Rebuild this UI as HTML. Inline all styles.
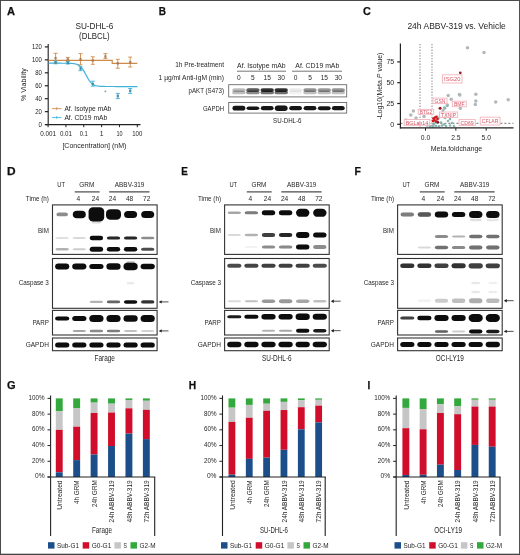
<!DOCTYPE html><html><head><meta charset="utf-8"><style>html,body{margin:0;padding:0;background:#fff;}body{width:520px;height:555px;overflow:hidden;}svg{display:block;}text{font-family:"Liberation Sans", sans-serif;}</style></head><body>
<svg width="520" height="555" viewBox="0 0 520 555">
<defs><filter id="bl" x="-30%" y="-80%" width="160%" height="260%"><feGaussianBlur stdDeviation="0.7"/></filter><filter id="soft" x="0" y="0" width="520" height="555" filterUnits="userSpaceOnUse"><feGaussianBlur stdDeviation="0.3"/></filter></defs>
<rect x="0.00" y="0.00" width="520.00" height="555.00" fill="#fff" />
<g filter="url(#soft)">
<text x="7.00" y="14.98" font-size="11.0" font-weight="bold" fill="#111" stroke="#111" stroke-width="0.25" textLength="8.0" lengthAdjust="spacingAndGlyphs">A</text>
<text x="94.40" y="28.64" font-size="9.0" text-anchor="middle" fill="#262626" stroke="#262626" stroke-width="0.0" textLength="38.00" lengthAdjust="spacingAndGlyphs" >SU-DHL-6</text>
<text x="94.40" y="39.19" font-size="9.0" text-anchor="middle" fill="#262626" stroke="#262626" stroke-width="0.0" textLength="30.60" lengthAdjust="spacingAndGlyphs" >(DLBCL)</text>
<line x1="48.20" y1="44.00" x2="48.20" y2="125.10" stroke="#222" stroke-width="1.1" />
<line x1="44.80" y1="124.60" x2="48.20" y2="124.60" stroke="#222" stroke-width="1.2" />
<text x="41.90" y="126.51" font-size="6.7" text-anchor="end" fill="#262626" stroke="#262626" stroke-width="0.0" textLength="3.40" lengthAdjust="spacingAndGlyphs" >0</text>
<line x1="44.80" y1="111.65" x2="48.20" y2="111.65" stroke="#222" stroke-width="1.2" />
<text x="41.90" y="113.56" font-size="6.7" text-anchor="end" fill="#262626" stroke="#262626" stroke-width="0.0" textLength="6.70" lengthAdjust="spacingAndGlyphs" >20</text>
<line x1="44.80" y1="98.70" x2="48.20" y2="98.70" stroke="#222" stroke-width="1.2" />
<text x="41.90" y="100.61" font-size="6.7" text-anchor="end" fill="#262626" stroke="#262626" stroke-width="0.0" textLength="6.70" lengthAdjust="spacingAndGlyphs" >40</text>
<line x1="44.80" y1="85.75" x2="48.20" y2="85.75" stroke="#222" stroke-width="1.2" />
<text x="41.90" y="87.66" font-size="6.7" text-anchor="end" fill="#262626" stroke="#262626" stroke-width="0.0" textLength="6.70" lengthAdjust="spacingAndGlyphs" >60</text>
<line x1="44.80" y1="72.80" x2="48.20" y2="72.80" stroke="#222" stroke-width="1.2" />
<text x="41.90" y="74.71" font-size="6.7" text-anchor="end" fill="#262626" stroke="#262626" stroke-width="0.0" textLength="6.70" lengthAdjust="spacingAndGlyphs" >80</text>
<line x1="44.80" y1="59.85" x2="48.20" y2="59.85" stroke="#222" stroke-width="1.2" />
<text x="41.90" y="61.76" font-size="6.7" text-anchor="end" fill="#262626" stroke="#262626" stroke-width="0.0" textLength="9.90" lengthAdjust="spacingAndGlyphs" >100</text>
<line x1="44.80" y1="46.90" x2="48.20" y2="46.90" stroke="#222" stroke-width="1.2" />
<text x="41.90" y="48.81" font-size="6.7" text-anchor="end" fill="#262626" stroke="#262626" stroke-width="0.0" textLength="9.90" lengthAdjust="spacingAndGlyphs" >120</text>
<line x1="45.50" y1="124.60" x2="140.50" y2="124.60" stroke="#222" stroke-width="1.1" />
<line x1="48.10" y1="124.60" x2="48.10" y2="127.20" stroke="#222" stroke-width="1" />
<text x="48.10" y="136.35" font-size="6.8" text-anchor="middle" fill="#262626" stroke="#262626" stroke-width="0.0" textLength="15.80" lengthAdjust="spacingAndGlyphs" >0.001</text>
<line x1="65.94" y1="124.60" x2="65.94" y2="127.20" stroke="#222" stroke-width="1" />
<text x="65.94" y="136.35" font-size="6.8" text-anchor="middle" fill="#262626" stroke="#262626" stroke-width="0.0" textLength="12.10" lengthAdjust="spacingAndGlyphs" >0.01</text>
<line x1="83.78" y1="124.60" x2="83.78" y2="127.20" stroke="#222" stroke-width="1" />
<text x="83.78" y="136.35" font-size="6.8" text-anchor="middle" fill="#262626" stroke="#262626" stroke-width="0.0" textLength="8.10" lengthAdjust="spacingAndGlyphs" >0.1</text>
<line x1="101.62" y1="124.60" x2="101.62" y2="127.20" stroke="#222" stroke-width="1" />
<text x="101.62" y="136.35" font-size="6.8" text-anchor="middle" fill="#262626" stroke="#262626" stroke-width="0.0" >1</text>
<line x1="119.46" y1="124.60" x2="119.46" y2="127.20" stroke="#222" stroke-width="1" />
<text x="119.46" y="136.35" font-size="6.8" text-anchor="middle" fill="#262626" stroke="#262626" stroke-width="0.0" textLength="6.10" lengthAdjust="spacingAndGlyphs" >10</text>
<line x1="137.30" y1="124.60" x2="137.30" y2="127.20" stroke="#222" stroke-width="1" />
<text x="137.30" y="136.35" font-size="6.8" text-anchor="middle" fill="#262626" stroke="#262626" stroke-width="0.0" textLength="10.10" lengthAdjust="spacingAndGlyphs" >100</text>
<text x="94.40" y="148.41" font-size="7.8" text-anchor="middle" fill="#262626" stroke="#262626" stroke-width="0.0" textLength="64.00" lengthAdjust="spacingAndGlyphs" >[Concentration] (nM)</text>
<text x="22.90" y="87.41" font-size="7.8" text-anchor="middle" fill="#262626" stroke="#262626" stroke-width="0.0" textLength="32.60" lengthAdjust="spacingAndGlyphs" transform="rotate(-90 22.90 84.60)" >% Viability</text>
<polyline points="48.5,60.4 112.2,60.4 112.2,63.4 137.3,63.4" fill="none" stroke="#cf8a48" stroke-width="1.2"/>
<polyline points="48.5,63.22 49.0,63.22 49.5,63.22 50.0,63.22 50.5,63.22 51.0,63.22 51.5,63.22 52.0,63.22 52.5,63.22 53.0,63.22 53.5,63.22 54.0,63.22 54.5,63.22 55.0,63.22 55.5,63.22 56.0,63.22 56.5,63.22 57.0,63.22 57.5,63.22 58.0,63.22 58.5,63.22 59.0,63.22 59.5,63.22 60.0,63.22 60.5,63.22 61.0,63.22 61.5,63.23 62.0,63.23 62.5,63.23 63.0,63.23 63.5,63.23 64.0,63.24 64.5,63.24 65.0,63.24 65.5,63.25 66.0,63.25 66.5,63.26 67.0,63.27 67.5,63.28 68.0,63.29 68.5,63.30 69.0,63.31 69.5,63.33 70.0,63.35 70.5,63.37 71.0,63.40 71.5,63.43 72.0,63.47 72.5,63.51 73.0,63.56 73.5,63.62 74.0,63.69 74.5,63.77 75.0,63.87 75.5,63.98 76.0,64.11 76.5,64.26 77.0,64.43 77.5,64.63 78.0,64.86 78.5,65.12 79.0,65.42 79.5,65.77 80.0,66.16 80.5,66.60 81.0,67.09 81.5,67.64 82.0,68.25 82.5,68.91 83.0,69.63 83.5,70.41 84.0,71.24 84.5,72.11 85.0,73.01 85.5,73.93 86.0,74.87 86.5,75.81 87.0,76.74 87.5,77.64 88.0,78.51 88.5,79.33 89.0,80.11 89.5,80.83 90.0,81.50 90.5,82.10 91.0,82.65 91.5,83.15 92.0,83.59 92.5,83.98 93.0,84.32 93.5,84.62 94.0,84.89 94.5,85.12 95.0,85.32 95.5,85.49 96.0,85.64 96.5,85.76 97.0,85.88 97.5,85.97 98.0,86.05 98.5,86.12 99.0,86.18 99.5,86.23 100.0,86.27 100.5,86.31 101.0,86.34 101.5,86.37 102.0,86.39 102.5,86.41 103.0,86.43 103.5,86.44 104.0,86.46 104.5,86.47 105.0,86.48 105.5,86.48 106.0,86.49 106.5,86.50 107.0,86.50 107.5,86.50 108.0,86.51 108.5,86.51 109.0,86.51 109.5,86.52 110.0,86.52 110.5,86.52 111.0,86.52 111.5,86.52 112.0,86.52 112.5,86.52 113.0,86.52 113.5,86.52 114.0,86.52 114.5,86.52 115.0,86.52 115.5,86.53 116.0,86.53 116.5,86.53 117.0,86.53 117.5,86.53 118.0,86.53 118.5,86.53 119.0,86.53 119.5,86.53 120.0,86.53 120.5,86.53 121.0,86.53 121.5,86.53 122.0,86.53 122.5,86.53 123.0,86.53 123.5,86.53 124.0,86.53 124.5,86.53 125.0,86.53 125.5,86.53 126.0,86.53 126.5,86.53 127.0,86.53 127.5,86.53 128.0,86.53 128.5,86.53 129.0,86.53 129.5,86.53 130.0,86.53 130.5,86.53 131.0,86.53 131.5,86.53 132.0,86.53 132.5,86.53 133.0,86.53 133.5,86.53 134.0,86.53 134.5,86.53 135.0,86.53 135.5,86.53 136.0,86.53 136.5,86.53 137.0,86.53 137.5,86.53" fill="none" stroke="#3fb2da" stroke-width="1.2"/>
<line x1="55.60" y1="53.30" x2="55.60" y2="63.00" stroke="#cf8a48" stroke-width="0.9" />
<line x1="53.60" y1="53.30" x2="57.60" y2="53.30" stroke="#cf8a48" stroke-width="0.9" />
<line x1="53.60" y1="63.00" x2="57.60" y2="63.00" stroke="#cf8a48" stroke-width="0.9" />
<rect x="54.40" y="56.90" width="2.40" height="2.40" fill="#9a7050" opacity="0.75"/>
<line x1="67.80" y1="57.40" x2="67.80" y2="61.50" stroke="#cf8a48" stroke-width="0.9" />
<line x1="65.80" y1="57.40" x2="69.80" y2="57.40" stroke="#cf8a48" stroke-width="0.9" />
<line x1="65.80" y1="61.50" x2="69.80" y2="61.50" stroke="#cf8a48" stroke-width="0.9" />
<rect x="66.60" y="58.10" width="2.40" height="2.40" fill="#9a7050" opacity="0.75"/>
<line x1="80.50" y1="53.60" x2="80.50" y2="64.80" stroke="#cf8a48" stroke-width="0.9" />
<line x1="78.50" y1="53.60" x2="82.50" y2="53.60" stroke="#cf8a48" stroke-width="0.9" />
<line x1="78.50" y1="64.80" x2="82.50" y2="64.80" stroke="#cf8a48" stroke-width="0.9" />
<rect x="79.30" y="58.10" width="2.40" height="2.40" fill="#9a7050" opacity="0.75"/>
<line x1="92.80" y1="56.80" x2="92.80" y2="64.30" stroke="#cf8a48" stroke-width="0.9" />
<line x1="90.80" y1="56.80" x2="94.80" y2="56.80" stroke="#cf8a48" stroke-width="0.9" />
<line x1="90.80" y1="64.30" x2="94.80" y2="64.30" stroke="#cf8a48" stroke-width="0.9" />
<rect x="91.60" y="59.30" width="2.40" height="2.40" fill="#9a7050" opacity="0.75"/>
<line x1="105.40" y1="53.60" x2="105.40" y2="58.60" stroke="#cf8a48" stroke-width="0.9" />
<line x1="103.40" y1="53.60" x2="107.40" y2="53.60" stroke="#cf8a48" stroke-width="0.9" />
<line x1="103.40" y1="58.60" x2="107.40" y2="58.60" stroke="#cf8a48" stroke-width="0.9" />
<rect x="104.20" y="55.30" width="2.40" height="2.40" fill="#9a7050" opacity="0.75"/>
<line x1="117.80" y1="59.30" x2="117.80" y2="68.20" stroke="#cf8a48" stroke-width="0.9" />
<line x1="115.80" y1="59.30" x2="119.80" y2="59.30" stroke="#cf8a48" stroke-width="0.9" />
<line x1="115.80" y1="68.20" x2="119.80" y2="68.20" stroke="#cf8a48" stroke-width="0.9" />
<rect x="116.60" y="62.20" width="2.40" height="2.40" fill="#9a7050" opacity="0.75"/>
<line x1="130.20" y1="57.10" x2="130.20" y2="67.00" stroke="#cf8a48" stroke-width="0.9" />
<line x1="128.20" y1="57.10" x2="132.20" y2="57.10" stroke="#cf8a48" stroke-width="0.9" />
<line x1="128.20" y1="67.00" x2="132.20" y2="67.00" stroke="#cf8a48" stroke-width="0.9" />
<rect x="129.00" y="61.00" width="2.40" height="2.40" fill="#9a7050" opacity="0.75"/>
<line x1="55.60" y1="61.00" x2="55.60" y2="63.80" stroke="#3fb2da" stroke-width="0.9" />
<line x1="53.60" y1="61.00" x2="57.60" y2="61.00" stroke="#3fb2da" stroke-width="0.9" />
<line x1="53.60" y1="63.80" x2="57.60" y2="63.80" stroke="#3fb2da" stroke-width="0.9" />
<rect x="54.40" y="61.20" width="2.40" height="2.40" fill="#3a7f95" opacity="0.75"/>
<line x1="67.80" y1="61.80" x2="67.80" y2="64.00" stroke="#3fb2da" stroke-width="0.9" />
<line x1="65.80" y1="61.80" x2="69.80" y2="61.80" stroke="#3fb2da" stroke-width="0.9" />
<line x1="65.80" y1="64.00" x2="69.80" y2="64.00" stroke="#3fb2da" stroke-width="0.9" />
<rect x="66.60" y="61.70" width="2.40" height="2.40" fill="#3a7f95" opacity="0.75"/>
<line x1="80.50" y1="66.70" x2="80.50" y2="70.70" stroke="#3fb2da" stroke-width="0.9" />
<line x1="78.50" y1="66.70" x2="82.50" y2="66.70" stroke="#3fb2da" stroke-width="0.9" />
<line x1="78.50" y1="70.70" x2="82.50" y2="70.70" stroke="#3fb2da" stroke-width="0.9" />
<rect x="79.30" y="67.50" width="2.40" height="2.40" fill="#3a7f95" opacity="0.75"/>
<line x1="92.80" y1="81.20" x2="92.80" y2="86.20" stroke="#3fb2da" stroke-width="0.9" />
<line x1="90.80" y1="81.20" x2="94.80" y2="81.20" stroke="#3fb2da" stroke-width="0.9" />
<line x1="90.80" y1="86.20" x2="94.80" y2="86.20" stroke="#3fb2da" stroke-width="0.9" />
<rect x="91.60" y="82.80" width="2.40" height="2.40" fill="#3a7f95" opacity="0.75"/>
<rect x="104.60" y="90.60" width="1.60" height="1.60" fill="#3a7f95" opacity="0.75"/>
<line x1="117.80" y1="93.40" x2="117.80" y2="98.60" stroke="#3fb2da" stroke-width="0.9" />
<line x1="115.80" y1="93.40" x2="119.80" y2="93.40" stroke="#3fb2da" stroke-width="0.9" />
<line x1="115.80" y1="98.60" x2="119.80" y2="98.60" stroke="#3fb2da" stroke-width="0.9" />
<rect x="116.60" y="94.80" width="2.40" height="2.40" fill="#3a7f95" opacity="0.75"/>
<line x1="130.20" y1="88.50" x2="130.20" y2="93.40" stroke="#3fb2da" stroke-width="0.9" />
<line x1="128.20" y1="88.50" x2="132.20" y2="88.50" stroke="#3fb2da" stroke-width="0.9" />
<line x1="128.20" y1="93.40" x2="132.20" y2="93.40" stroke="#3fb2da" stroke-width="0.9" />
<rect x="129.00" y="89.60" width="2.40" height="2.40" fill="#3a7f95" opacity="0.75"/>
<line x1="52.00" y1="108.60" x2="61.50" y2="108.60" stroke="#cf8a48" stroke-width="1.1" opacity="0.8"/>
<line x1="56.70" y1="107.00" x2="56.70" y2="110.20" stroke="#cf8a48" stroke-width="0.9" opacity="0.8"/>
<text x="64.40" y="110.78" font-size="6.6" text-anchor="start" fill="#262626" stroke="#262626" stroke-width="0.0" textLength="46.90" lengthAdjust="spacingAndGlyphs" >Af. Isotype mAb</text>
<line x1="52.00" y1="117.50" x2="61.50" y2="117.50" stroke="#3fb2da" stroke-width="1.1" opacity="0.8"/>
<line x1="56.70" y1="116.00" x2="56.70" y2="119.00" stroke="#3fb2da" stroke-width="0.9" opacity="0.8"/>
<text x="64.40" y="119.68" font-size="6.6" text-anchor="start" fill="#262626" stroke="#262626" stroke-width="0.0" textLength="42.80" lengthAdjust="spacingAndGlyphs" >Af. CD19 mAb</text>
<text x="158.80" y="14.88" font-size="11.0" font-weight="bold" fill="#111" stroke="#111" stroke-width="0.25" textLength="7.2" lengthAdjust="spacingAndGlyphs">B</text>
<text x="224.00" y="67.40" font-size="6.4" text-anchor="end" fill="#262626" stroke="#262626" stroke-width="0.0" textLength="48.80" lengthAdjust="spacingAndGlyphs" >1h Pre-treatment</text>
<text x="224.00" y="80.10" font-size="6.4" text-anchor="end" fill="#262626" stroke="#262626" stroke-width="0.0" textLength="65.40" lengthAdjust="spacingAndGlyphs" >1 µg/ml Anti-IgM (min)</text>
<text x="224.00" y="92.70" font-size="6.4" text-anchor="end" fill="#262626" stroke="#262626" stroke-width="0.0" textLength="35.50" lengthAdjust="spacingAndGlyphs" >pAKT (S473)</text>
<text x="224.00" y="110.50" font-size="6.4" text-anchor="end" fill="#262626" stroke="#262626" stroke-width="0.0" textLength="21.00" lengthAdjust="spacingAndGlyphs" >GAPDH</text>
<text x="261.30" y="67.78" font-size="6.6" text-anchor="middle" fill="#262626" stroke="#262626" stroke-width="0.0" textLength="48.50" lengthAdjust="spacingAndGlyphs" >Af. Isotype mAb</text>
<text x="317.30" y="67.78" font-size="6.6" text-anchor="middle" fill="#262626" stroke="#262626" stroke-width="0.0" textLength="44.00" lengthAdjust="spacingAndGlyphs" >Af. CD19 mAb</text>
<line x1="237.00" y1="71.20" x2="286.00" y2="71.20" stroke="#666" stroke-width="0.9" />
<line x1="292.00" y1="71.20" x2="342.00" y2="71.20" stroke="#666" stroke-width="0.9" />
<text x="238.90" y="80.48" font-size="6.6" text-anchor="middle" fill="#262626" stroke="#262626" stroke-width="0.0" >0</text>
<text x="252.90" y="80.48" font-size="6.6" text-anchor="middle" fill="#262626" stroke="#262626" stroke-width="0.0" >5</text>
<text x="267.20" y="80.48" font-size="6.6" text-anchor="middle" fill="#262626" stroke="#262626" stroke-width="0.0" >15</text>
<text x="281.20" y="80.48" font-size="6.6" text-anchor="middle" fill="#262626" stroke="#262626" stroke-width="0.0" >30</text>
<text x="295.60" y="80.48" font-size="6.6" text-anchor="middle" fill="#262626" stroke="#262626" stroke-width="0.0" >0</text>
<text x="310.00" y="80.48" font-size="6.6" text-anchor="middle" fill="#262626" stroke="#262626" stroke-width="0.0" >5</text>
<text x="324.30" y="80.48" font-size="6.6" text-anchor="middle" fill="#262626" stroke="#262626" stroke-width="0.0" >15</text>
<text x="338.30" y="80.48" font-size="6.6" text-anchor="middle" fill="#262626" stroke="#262626" stroke-width="0.0" >30</text>
<rect x="228.70" y="84.70" width="118.00" height="12.20" fill="#fff" stroke="#6a6a6a" stroke-width="0.9" />
<rect x="228.70" y="102.50" width="118.00" height="10.60" fill="#fff" stroke="#6a6a6a" stroke-width="0.9" />
<rect x="232.20" y="90.50" width="13.40" height="3.80" rx="2.42" ry="1.90" fill="#0d0d0d" fill-opacity="0.26" filter="url(#bl)"/>
<rect x="232.20" y="88.30" width="13.40" height="3.60" rx="2.42" ry="1.80" fill="#0d0d0d" fill-opacity="0.26" filter="url(#bl)"/>
<rect x="246.20" y="90.50" width="13.40" height="3.80" rx="2.42" ry="1.90" fill="#0d0d0d" fill-opacity="0.45" filter="url(#bl)"/>
<rect x="246.20" y="88.30" width="13.40" height="3.60" rx="2.42" ry="1.80" fill="#0d0d0d" fill-opacity="0.68" filter="url(#bl)"/>
<rect x="260.50" y="90.50" width="13.40" height="3.80" rx="2.42" ry="1.90" fill="#0d0d0d" fill-opacity="0.60" filter="url(#bl)"/>
<rect x="260.50" y="88.30" width="13.40" height="3.60" rx="2.42" ry="1.80" fill="#0d0d0d" fill-opacity="0.85" filter="url(#bl)"/>
<rect x="274.50" y="90.50" width="13.40" height="3.80" rx="2.42" ry="1.90" fill="#0d0d0d" fill-opacity="0.60" filter="url(#bl)"/>
<rect x="274.50" y="88.30" width="13.40" height="3.60" rx="2.42" ry="1.80" fill="#0d0d0d" fill-opacity="0.85" filter="url(#bl)"/>
<rect x="288.90" y="90.50" width="13.40" height="3.80" rx="2.42" ry="1.90" fill="#0d0d0d" fill-opacity="0.05" filter="url(#bl)"/>
<rect x="288.90" y="88.30" width="13.40" height="3.60" rx="2.42" ry="1.80" fill="#0d0d0d" fill-opacity="0.08" filter="url(#bl)"/>
<rect x="303.30" y="90.50" width="13.40" height="3.80" rx="2.42" ry="1.90" fill="#0d0d0d" fill-opacity="0.25" filter="url(#bl)"/>
<rect x="303.30" y="88.30" width="13.40" height="3.60" rx="2.42" ry="1.80" fill="#0d0d0d" fill-opacity="0.42" filter="url(#bl)"/>
<rect x="317.60" y="90.50" width="13.40" height="3.80" rx="2.42" ry="1.90" fill="#0d0d0d" fill-opacity="0.25" filter="url(#bl)"/>
<rect x="317.60" y="88.30" width="13.40" height="3.60" rx="2.42" ry="1.80" fill="#0d0d0d" fill-opacity="0.40" filter="url(#bl)"/>
<rect x="331.60" y="90.50" width="13.40" height="3.80" rx="2.42" ry="1.90" fill="#0d0d0d" fill-opacity="0.25" filter="url(#bl)"/>
<rect x="331.60" y="88.30" width="13.40" height="3.60" rx="2.42" ry="1.80" fill="#0d0d0d" fill-opacity="0.42" filter="url(#bl)"/>
<rect x="232.50" y="105.80" width="12.80" height="4.80" rx="2.64" ry="2.40" fill="#0d0d0d" fill-opacity="0.97" filter="url(#bl)"/>
<rect x="246.50" y="106.40" width="12.80" height="3.60" rx="2.42" ry="1.80" fill="#0d0d0d" fill-opacity="0.97" filter="url(#bl)"/>
<rect x="260.80" y="106.10" width="12.80" height="4.20" rx="2.42" ry="2.10" fill="#0d0d0d" fill-opacity="0.97" filter="url(#bl)"/>
<rect x="274.80" y="105.50" width="12.80" height="5.40" rx="2.97" ry="2.70" fill="#0d0d0d" fill-opacity="0.97" filter="url(#bl)"/>
<rect x="289.20" y="106.10" width="12.80" height="4.20" rx="2.42" ry="2.10" fill="#0d0d0d" fill-opacity="0.97" filter="url(#bl)"/>
<rect x="303.60" y="106.10" width="12.80" height="4.20" rx="2.42" ry="2.10" fill="#0d0d0d" fill-opacity="0.97" filter="url(#bl)"/>
<rect x="317.90" y="106.20" width="12.80" height="4.00" rx="2.42" ry="2.00" fill="#0d0d0d" fill-opacity="0.97" filter="url(#bl)"/>
<rect x="331.90" y="106.10" width="12.80" height="4.20" rx="2.42" ry="2.10" fill="#0d0d0d" fill-opacity="0.97" filter="url(#bl)"/>
<text x="287.30" y="123.25" font-size="6.8" text-anchor="middle" fill="#262626" stroke="#262626" stroke-width="0.0" textLength="28.50" lengthAdjust="spacingAndGlyphs" >SU-DHL-6</text>
<text x="363.00" y="14.78" font-size="11.0" font-weight="bold" fill="#111" stroke="#111" stroke-width="0.25" textLength="7.8" lengthAdjust="spacingAndGlyphs">C</text>
<text x="456.60" y="28.62" font-size="8.4" text-anchor="middle" fill="#262626" stroke="#262626" stroke-width="0.0" textLength="98.40" lengthAdjust="spacingAndGlyphs" >24h ABBV-319 vs. Vehicle</text>
<line x1="420.00" y1="44.00" x2="420.00" y2="127.90" stroke="#8c8c8c" stroke-width="1.1" stroke-dasharray="1.3 1.5"/>
<line x1="432.00" y1="44.00" x2="432.00" y2="127.90" stroke="#8c8c8c" stroke-width="1.1" stroke-dasharray="1.3 1.5"/>
<line x1="400.40" y1="123.40" x2="513.50" y2="123.40" stroke="#8c8c8c" stroke-width="1.1" stroke-dasharray="2 2"/>
<circle cx="467.50" cy="47.80" r="1.75" fill="#b2b8b8" />
<circle cx="484.00" cy="52.50" r="1.75" fill="#b2b8b8" />
<circle cx="459.40" cy="94.60" r="1.75" fill="#b2b8b8" />
<circle cx="475.80" cy="94.20" r="1.75" fill="#b2b8b8" />
<circle cx="475.80" cy="101.00" r="1.75" fill="#b2b8b8" />
<circle cx="475.30" cy="104.60" r="1.75" fill="#b2b8b8" />
<circle cx="495.70" cy="102.00" r="1.75" fill="#b2b8b8" />
<circle cx="508.20" cy="99.80" r="1.75" fill="#b2b8b8" />
<circle cx="448.20" cy="95.40" r="1.75" fill="#b2b8b8" />
<circle cx="459.80" cy="94.90" r="1.75" fill="#b2b8b8" />
<circle cx="451.20" cy="99.20" r="1.75" fill="#b2b8b8" />
<circle cx="447.30" cy="104.90" r="1.75" fill="#b2b8b8" />
<circle cx="444.70" cy="108.30" r="1.75" fill="#b2b8b8" />
<circle cx="460.30" cy="108.30" r="1.75" fill="#b2b8b8" />
<circle cx="413.40" cy="111.00" r="1.75" fill="#b2b8b8" />
<circle cx="410.80" cy="114.90" r="1.75" fill="#b2b8b8" />
<circle cx="406.00" cy="120.00" r="1.75" fill="#b2b8b8" />
<circle cx="416.00" cy="118.00" r="1.75" fill="#b2b8b8" />
<circle cx="424.00" cy="116.50" r="1.75" fill="#b2b8b8" />
<circle cx="443.00" cy="110.50" r="1.35" fill="#8cb4b0" />
<circle cx="441.50" cy="113.00" r="1.35" fill="#8cb4b0" />
<circle cx="440.00" cy="115.50" r="1.35" fill="#8cb4b0" />
<circle cx="438.50" cy="118.00" r="1.35" fill="#8cb4b0" />
<circle cx="437.00" cy="120.50" r="1.35" fill="#8cb4b0" />
<circle cx="435.50" cy="122.50" r="1.35" fill="#8cb4b0" />
<circle cx="434.00" cy="124.50" r="1.35" fill="#8cb4b0" />
<circle cx="432.50" cy="125.50" r="1.35" fill="#8cb4b0" />
<circle cx="445.00" cy="118.00" r="1.35" fill="#8cb4b0" />
<circle cx="448.00" cy="121.00" r="1.35" fill="#8cb4b0" />
<circle cx="452.00" cy="123.00" r="1.35" fill="#8cb4b0" />
<circle cx="441.00" cy="122.50" r="1.35" fill="#8cb4b0" />
<circle cx="444.00" cy="124.50" r="1.35" fill="#8cb4b0" />
<circle cx="436.00" cy="126.00" r="1.35" fill="#8cb4b0" />
<circle cx="430.00" cy="126.30" r="1.35" fill="#8cb4b0" />
<circle cx="427.00" cy="125.50" r="1.35" fill="#8cb4b0" />
<circle cx="446.00" cy="116.00" r="1.35" fill="#8cb4b0" />
<circle cx="450.00" cy="119.00" r="1.35" fill="#8cb4b0" />
<circle cx="447.30" cy="105.80" r="1.35" fill="#8cb4b0" />
<circle cx="444.50" cy="107.50" r="1.35" fill="#8cb4b0" />
<circle cx="442.00" cy="125.50" r="1.35" fill="#8cb4b0" />
<circle cx="446.00" cy="126.00" r="1.35" fill="#8cb4b0" />
<circle cx="450.00" cy="125.50" r="1.35" fill="#8cb4b0" />
<circle cx="454.00" cy="126.00" r="1.35" fill="#8cb4b0" />
<circle cx="439.00" cy="126.30" r="1.35" fill="#8cb4b0" />
<circle cx="433.00" cy="126.60" r="1.35" fill="#8cb4b0" />
<circle cx="428.50" cy="124.00" r="1.35" fill="#8cb4b0" />
<circle cx="433.50" cy="118.50" r="1.35" fill="#d2141e" />
<circle cx="435.00" cy="117.50" r="1.35" fill="#d2141e" />
<circle cx="436.50" cy="116.80" r="1.35" fill="#d2141e" />
<circle cx="434.50" cy="120.00" r="1.35" fill="#d2141e" />
<circle cx="437.50" cy="119.00" r="1.35" fill="#d2141e" />
<circle cx="433.00" cy="121.00" r="1.35" fill="#d2141e" />
<circle cx="436.00" cy="121.50" r="1.35" fill="#d2141e" />
<circle cx="460.30" cy="72.80" r="1.35" fill="#8a1c24" />
<circle cx="440.10" cy="108.30" r="1.50" fill="#a0101c" />
<circle cx="438.00" cy="122.30" r="1.20" fill="#7a1a22" />
<rect x="442.50" y="74.80" width="19.50" height="8.20" fill="#fff" stroke="#f2b4bc" stroke-width="0.9" fill-opacity="0.85"/>
<text x="452.25" y="81.16" font-size="6.0" text-anchor="middle" fill="#d65466" stroke="#d65466" stroke-width="0.0" textLength="16.30" lengthAdjust="spacingAndGlyphs" >ISG20</text>
<rect x="433.00" y="98.10" width="14.00" height="5.50" fill="#fff" stroke="#f2b4bc" stroke-width="0.9" fill-opacity="0.85"/>
<text x="440.00" y="103.11" font-size="6.0" text-anchor="middle" fill="#d65466" stroke="#d65466" stroke-width="0.0" textLength="10.80" lengthAdjust="spacingAndGlyphs" >GSN</text>
<rect x="452.30" y="101.20" width="14.00" height="5.50" fill="#fff" stroke="#f2b4bc" stroke-width="0.9" fill-opacity="0.85"/>
<text x="459.30" y="106.21" font-size="6.0" text-anchor="middle" fill="#d65466" stroke="#d65466" stroke-width="0.0" textLength="10.80" lengthAdjust="spacingAndGlyphs" >BMF</text>
<rect x="418.20" y="109.40" width="15.50" height="4.80" fill="#fff" stroke="#f2b4bc" stroke-width="0.9" fill-opacity="0.85"/>
<text x="425.95" y="114.06" font-size="6.0" text-anchor="middle" fill="#d65466" stroke="#d65466" stroke-width="0.0" textLength="12.30" lengthAdjust="spacingAndGlyphs" >BTG2</text>
<rect x="439.40" y="112.00" width="18.30" height="5.50" fill="#fff" stroke="#f2b4bc" stroke-width="0.9" fill-opacity="0.85"/>
<text x="448.55" y="117.01" font-size="6.0" text-anchor="middle" fill="#d65466" stroke="#d65466" stroke-width="0.0" textLength="15.10" lengthAdjust="spacingAndGlyphs" >TXNIP</text>
<rect x="404.20" y="119.50" width="25.60" height="5.80" fill="#fff" stroke="#f2b4bc" stroke-width="0.9" fill-opacity="0.85"/>
<text x="417.00" y="124.66" font-size="6.0" text-anchor="middle" fill="#d65466" stroke="#d65466" stroke-width="0.0" textLength="22.40" lengthAdjust="spacingAndGlyphs" >BGLab14</text>
<rect x="459.00" y="119.60" width="16.30" height="5.90" fill="#fff" stroke="#f2b4bc" stroke-width="0.9" fill-opacity="0.85"/>
<text x="467.15" y="124.81" font-size="6.0" text-anchor="middle" fill="#d65466" stroke="#d65466" stroke-width="0.0" textLength="13.10" lengthAdjust="spacingAndGlyphs" >CD69</text>
<rect x="480.20" y="117.20" width="19.80" height="7.80" fill="#fff" stroke="#f2b4bc" stroke-width="0.9" fill-opacity="0.85"/>
<text x="490.10" y="123.36" font-size="6.0" text-anchor="middle" fill="#d65466" stroke="#d65466" stroke-width="0.0" textLength="16.60" lengthAdjust="spacingAndGlyphs" >CFLAR</text>
<line x1="400.40" y1="43.40" x2="400.40" y2="128.40" stroke="#222" stroke-width="1.2" />
<line x1="399.90" y1="127.90" x2="513.50" y2="127.90" stroke="#222" stroke-width="1.3" />
<line x1="397.20" y1="124.30" x2="400.40" y2="124.30" stroke="#222" stroke-width="1.2" />
<text x="394.20" y="126.52" font-size="7.0" text-anchor="end" fill="#262626" stroke="#262626" stroke-width="0.0" >0</text>
<line x1="397.20" y1="103.50" x2="400.40" y2="103.50" stroke="#222" stroke-width="1.2" />
<text x="394.20" y="105.72" font-size="7.0" text-anchor="end" fill="#262626" stroke="#262626" stroke-width="0.0" >25</text>
<line x1="397.20" y1="82.70" x2="400.40" y2="82.70" stroke="#222" stroke-width="1.2" />
<text x="394.20" y="84.92" font-size="7.0" text-anchor="end" fill="#262626" stroke="#262626" stroke-width="0.0" >50</text>
<line x1="397.20" y1="61.90" x2="400.40" y2="61.90" stroke="#222" stroke-width="1.2" />
<text x="394.20" y="64.12" font-size="7.0" text-anchor="end" fill="#262626" stroke="#262626" stroke-width="0.0" >75</text>
<line x1="425.50" y1="127.90" x2="425.50" y2="130.70" stroke="#222" stroke-width="1" />
<text x="425.50" y="139.99" font-size="7.2" text-anchor="middle" fill="#262626" stroke="#262626" stroke-width="0.0" textLength="9.40" lengthAdjust="spacingAndGlyphs" >0.0</text>
<line x1="455.85" y1="127.90" x2="455.85" y2="130.70" stroke="#222" stroke-width="1" />
<text x="455.85" y="139.99" font-size="7.2" text-anchor="middle" fill="#262626" stroke="#262626" stroke-width="0.0" textLength="9.40" lengthAdjust="spacingAndGlyphs" >2.5</text>
<line x1="486.20" y1="127.90" x2="486.20" y2="130.70" stroke="#222" stroke-width="1" />
<text x="486.20" y="139.99" font-size="7.2" text-anchor="middle" fill="#262626" stroke="#262626" stroke-width="0.0" textLength="9.40" lengthAdjust="spacingAndGlyphs" >5.0</text>
<text x="456.50" y="151.37" font-size="7.7" text-anchor="middle" fill="#262626" stroke="#262626" stroke-width="0.0" textLength="51.30" lengthAdjust="spacingAndGlyphs" >Meta.foldchange</text>
<text x="379.2" y="88.84" font-size="7.6" text-anchor="middle" fill="#262626" textLength="67" lengthAdjust="spacingAndGlyphs" transform="rotate(-90 379.2 86.1)">-Log10(Meta.<tspan font-style="italic">P</tspan> value)</text>
<text x="6.90" y="175.28" font-size="11.0" font-weight="bold" fill="#111" stroke="#111" stroke-width="0.25" textLength="8.6" lengthAdjust="spacingAndGlyphs">D</text>
<text x="61.20" y="187.48" font-size="6.6" text-anchor="middle" fill="#262626" stroke="#262626" stroke-width="0.0" textLength="7.70" lengthAdjust="spacingAndGlyphs" >UT</text>
<text x="86.85" y="187.48" font-size="6.6" text-anchor="middle" fill="#262626" stroke="#262626" stroke-width="0.0" textLength="15.00" lengthAdjust="spacingAndGlyphs" >GRM</text>
<text x="129.60" y="187.48" font-size="6.6" text-anchor="middle" fill="#262626" stroke="#262626" stroke-width="0.0" textLength="29.50" lengthAdjust="spacingAndGlyphs" >ABBV-319</text>
<line x1="74.70" y1="191.90" x2="99.60" y2="191.90" stroke="#4a4a4a" stroke-width="1.2" />
<line x1="109.20" y1="191.90" x2="149.50" y2="191.90" stroke="#4a4a4a" stroke-width="1.2" />
<text x="48.90" y="200.78" font-size="6.6" text-anchor="end" fill="#262626" stroke="#262626" stroke-width="0.0" textLength="23.10" lengthAdjust="spacingAndGlyphs" >Time (h)</text>
<text x="78.30" y="200.68" font-size="6.6" text-anchor="middle" fill="#262626" stroke="#262626" stroke-width="0.0" >4</text>
<text x="95.40" y="200.68" font-size="6.6" text-anchor="middle" fill="#262626" stroke="#262626" stroke-width="0.0" >24</text>
<text x="112.50" y="200.68" font-size="6.6" text-anchor="middle" fill="#262626" stroke="#262626" stroke-width="0.0" >24</text>
<text x="129.60" y="200.68" font-size="6.6" text-anchor="middle" fill="#262626" stroke="#262626" stroke-width="0.0" >48</text>
<text x="146.70" y="200.68" font-size="6.6" text-anchor="middle" fill="#262626" stroke="#262626" stroke-width="0.0" >72</text>
<rect x="52.50" y="204.90" width="104.60" height="49.50" fill="#fff" stroke="#333" stroke-width="1.1" />
<rect x="52.50" y="258.50" width="104.60" height="49.80" fill="#fff" stroke="#333" stroke-width="1.1" />
<rect x="52.50" y="310.40" width="104.60" height="24.60" fill="#fff" stroke="#333" stroke-width="1.1" />
<rect x="52.50" y="338.00" width="104.60" height="12.70" fill="#fff" stroke="#333" stroke-width="1.1" />
<text x="48.90" y="232.98" font-size="6.6" text-anchor="end" fill="#262626" stroke="#262626" stroke-width="0.0" textLength="11.00" lengthAdjust="spacingAndGlyphs" >BIM</text>
<text x="48.90" y="285.18" font-size="6.6" text-anchor="end" fill="#262626" stroke="#262626" stroke-width="0.0" textLength="30.20" lengthAdjust="spacingAndGlyphs" >Caspase 3</text>
<text x="48.90" y="324.78" font-size="6.6" text-anchor="end" fill="#262626" stroke="#262626" stroke-width="0.0" textLength="16.50" lengthAdjust="spacingAndGlyphs" >PARP</text>
<text x="48.90" y="346.88" font-size="6.6" text-anchor="end" fill="#262626" stroke="#262626" stroke-width="0.0" textLength="23.20" lengthAdjust="spacingAndGlyphs" >GAPDH</text>
<rect x="56.45" y="212.50" width="11.50" height="3.80" rx="2.42" ry="1.90" fill="#0d0d0d" fill-opacity="0.45" filter="url(#bl)"/>
<rect x="72.80" y="210.65" width="13.00" height="7.50" rx="4.12" ry="3.75" fill="#0d0d0d" fill-opacity="1.00" filter="url(#bl)"/>
<rect x="88.60" y="207.30" width="15.60" height="14.20" rx="4.50" ry="4.00" fill="#0d0d0d" fill-opacity="1.00" filter="url(#bl)"/>
<rect x="106.00" y="209.15" width="15.00" height="10.50" rx="4.50" ry="4.00" fill="#0d0d0d" fill-opacity="1.00" filter="url(#bl)"/>
<rect x="124.10" y="210.90" width="13.00" height="7.00" rx="3.85" ry="3.50" fill="#0d0d0d" fill-opacity="1.00" filter="url(#bl)"/>
<rect x="141.20" y="210.90" width="13.00" height="7.00" rx="3.85" ry="3.50" fill="#0d0d0d" fill-opacity="1.00" filter="url(#bl)"/>
<rect x="55.50" y="236.90" width="13.40" height="2.00" rx="2.42" ry="1.00" fill="#0d0d0d" fill-opacity="0.12" filter="url(#bl)"/>
<rect x="72.60" y="236.90" width="13.40" height="2.00" rx="2.42" ry="1.00" fill="#0d0d0d" fill-opacity="0.15" filter="url(#bl)"/>
<rect x="89.70" y="235.65" width="13.40" height="4.50" rx="2.48" ry="2.25" fill="#0d0d0d" fill-opacity="1.00" filter="url(#bl)"/>
<rect x="106.80" y="236.40" width="13.40" height="3.00" rx="2.42" ry="1.50" fill="#0d0d0d" fill-opacity="0.90" filter="url(#bl)"/>
<rect x="123.90" y="236.40" width="13.40" height="3.00" rx="2.42" ry="1.50" fill="#0d0d0d" fill-opacity="0.90" filter="url(#bl)"/>
<rect x="141.00" y="236.65" width="13.40" height="2.50" rx="2.42" ry="1.25" fill="#0d0d0d" fill-opacity="0.45" filter="url(#bl)"/>
<rect x="55.50" y="248.05" width="13.40" height="2.50" rx="2.42" ry="1.25" fill="#0d0d0d" fill-opacity="0.30" filter="url(#bl)"/>
<rect x="72.60" y="248.30" width="13.40" height="2.00" rx="2.42" ry="1.00" fill="#0d0d0d" fill-opacity="0.20" filter="url(#bl)"/>
<rect x="89.70" y="246.80" width="13.40" height="5.00" rx="2.75" ry="2.50" fill="#0d0d0d" fill-opacity="1.00" filter="url(#bl)"/>
<rect x="106.80" y="247.05" width="13.40" height="4.50" rx="2.48" ry="2.25" fill="#0d0d0d" fill-opacity="1.00" filter="url(#bl)"/>
<rect x="123.90" y="247.05" width="13.40" height="4.50" rx="2.48" ry="2.25" fill="#0d0d0d" fill-opacity="1.00" filter="url(#bl)"/>
<rect x="141.00" y="247.80" width="13.40" height="3.00" rx="2.42" ry="1.50" fill="#0d0d0d" fill-opacity="0.75" filter="url(#bl)"/>
<rect x="55.10" y="263.50" width="14.20" height="6.00" rx="3.30" ry="3.00" fill="#0d0d0d" fill-opacity="1.00" filter="url(#bl)"/>
<rect x="72.20" y="263.50" width="14.20" height="6.00" rx="3.30" ry="3.00" fill="#0d0d0d" fill-opacity="1.00" filter="url(#bl)"/>
<rect x="89.30" y="264.00" width="14.20" height="5.00" rx="2.75" ry="2.50" fill="#0d0d0d" fill-opacity="1.00" filter="url(#bl)"/>
<rect x="106.40" y="263.25" width="14.20" height="6.50" rx="3.58" ry="3.25" fill="#0d0d0d" fill-opacity="1.00" filter="url(#bl)"/>
<rect x="123.50" y="262.75" width="14.20" height="7.50" rx="4.12" ry="3.75" fill="#0d0d0d" fill-opacity="1.00" filter="url(#bl)"/>
<rect x="140.60" y="263.75" width="14.20" height="5.50" rx="3.03" ry="2.75" fill="#0d0d0d" fill-opacity="1.00" filter="url(#bl)"/>
<rect x="89.70" y="300.80" width="13.40" height="2.20" rx="2.42" ry="1.10" fill="#0d0d0d" fill-opacity="0.30" filter="url(#bl)"/>
<rect x="106.80" y="300.50" width="13.40" height="2.80" rx="2.42" ry="1.40" fill="#0d0d0d" fill-opacity="0.65" filter="url(#bl)"/>
<rect x="123.90" y="300.15" width="13.40" height="3.50" rx="2.42" ry="1.75" fill="#0d0d0d" fill-opacity="1.00" filter="url(#bl)"/>
<rect x="141.00" y="300.30" width="13.40" height="3.20" rx="2.42" ry="1.60" fill="#0d0d0d" fill-opacity="0.85" filter="url(#bl)"/>
<rect x="55.10" y="316.60" width="14.20" height="3.80" rx="2.42" ry="1.90" fill="#0d0d0d" fill-opacity="1.00" filter="url(#bl)"/>
<rect x="72.20" y="316.00" width="14.20" height="5.00" rx="2.75" ry="2.50" fill="#0d0d0d" fill-opacity="1.00" filter="url(#bl)"/>
<rect x="89.30" y="315.00" width="14.20" height="7.00" rx="3.85" ry="3.50" fill="#0d0d0d" fill-opacity="1.00" filter="url(#bl)"/>
<rect x="106.40" y="315.00" width="14.20" height="7.00" rx="3.85" ry="3.50" fill="#0d0d0d" fill-opacity="1.00" filter="url(#bl)"/>
<rect x="123.50" y="315.25" width="14.20" height="6.50" rx="3.58" ry="3.25" fill="#0d0d0d" fill-opacity="1.00" filter="url(#bl)"/>
<rect x="140.60" y="315.00" width="14.20" height="7.00" rx="3.85" ry="3.50" fill="#0d0d0d" fill-opacity="1.00" filter="url(#bl)"/>
<rect x="72.60" y="329.90" width="13.40" height="2.00" rx="2.42" ry="1.00" fill="#0d0d0d" fill-opacity="0.35" filter="url(#bl)"/>
<rect x="89.70" y="329.65" width="13.40" height="2.50" rx="2.42" ry="1.25" fill="#0d0d0d" fill-opacity="0.50" filter="url(#bl)"/>
<rect x="106.80" y="329.65" width="13.40" height="2.50" rx="2.42" ry="1.25" fill="#0d0d0d" fill-opacity="0.55" filter="url(#bl)"/>
<rect x="123.90" y="329.90" width="13.40" height="2.00" rx="2.42" ry="1.00" fill="#0d0d0d" fill-opacity="0.25" filter="url(#bl)"/>
<rect x="141.00" y="329.90" width="13.40" height="2.00" rx="2.42" ry="1.00" fill="#0d0d0d" fill-opacity="0.18" filter="url(#bl)"/>
<rect x="55.10" y="342.50" width="14.20" height="5.00" rx="2.75" ry="2.50" fill="#0d0d0d" fill-opacity="1.00" filter="url(#bl)"/>
<rect x="72.20" y="342.50" width="14.20" height="5.00" rx="2.75" ry="2.50" fill="#0d0d0d" fill-opacity="1.00" filter="url(#bl)"/>
<rect x="89.30" y="342.50" width="14.20" height="5.00" rx="2.75" ry="2.50" fill="#0d0d0d" fill-opacity="1.00" filter="url(#bl)"/>
<rect x="106.40" y="342.50" width="14.20" height="5.00" rx="2.75" ry="2.50" fill="#0d0d0d" fill-opacity="1.00" filter="url(#bl)"/>
<rect x="123.50" y="342.50" width="14.20" height="5.00" rx="2.75" ry="2.50" fill="#0d0d0d" fill-opacity="1.00" filter="url(#bl)"/>
<rect x="140.60" y="342.40" width="14.20" height="5.20" rx="2.86" ry="2.60" fill="#0d0d0d" fill-opacity="1.00" filter="url(#bl)"/>
<rect x="126.60" y="282.05" width="8.00" height="2.50" rx="2.42" ry="1.25" fill="#0d0d0d" fill-opacity="0.08" filter="url(#bl)"/>
<rect x="126.10" y="261.25" width="9.00" height="2.50" rx="2.42" ry="1.25" fill="#0d0d0d" fill-opacity="0.25" filter="url(#bl)"/>
<rect x="91.40" y="221.50" width="10.00" height="2.00" rx="2.42" ry="1.00" fill="#0d0d0d" fill-opacity="0.15" filter="url(#bl)"/>
<line x1="160.00" y1="301.90" x2="168.50" y2="301.90" stroke="#222" stroke-width="0.8" />
<path d="M158.70,301.90 l3.0,-1.7 l0,3.4 z" fill="#222"/>
<line x1="160.00" y1="330.90" x2="168.50" y2="330.90" stroke="#222" stroke-width="0.8" />
<path d="M158.70,330.90 l3.0,-1.7 l0,3.4 z" fill="#222"/>
<text x="104.70" y="361.40" font-size="8.6" text-anchor="middle" fill="#262626" stroke="#262626" stroke-width="0.0" textLength="20.50" lengthAdjust="spacingAndGlyphs" >Farage</text>
<text x="181.20" y="175.28" font-size="11.0" font-weight="bold" fill="#111" stroke="#111" stroke-width="0.25" textLength="6.6" lengthAdjust="spacingAndGlyphs">E</text>
<text x="233.30" y="187.48" font-size="6.6" text-anchor="middle" fill="#262626" stroke="#262626" stroke-width="0.0" textLength="7.70" lengthAdjust="spacingAndGlyphs" >UT</text>
<text x="258.95" y="187.48" font-size="6.6" text-anchor="middle" fill="#262626" stroke="#262626" stroke-width="0.0" textLength="15.00" lengthAdjust="spacingAndGlyphs" >GRM</text>
<text x="301.70" y="187.48" font-size="6.6" text-anchor="middle" fill="#262626" stroke="#262626" stroke-width="0.0" textLength="29.50" lengthAdjust="spacingAndGlyphs" >ABBV-319</text>
<line x1="246.80" y1="191.90" x2="271.70" y2="191.90" stroke="#4a4a4a" stroke-width="1.2" />
<line x1="281.30" y1="191.90" x2="321.60" y2="191.90" stroke="#4a4a4a" stroke-width="1.2" />
<text x="221.00" y="200.78" font-size="6.6" text-anchor="end" fill="#262626" stroke="#262626" stroke-width="0.0" textLength="23.10" lengthAdjust="spacingAndGlyphs" >Time (h)</text>
<text x="250.40" y="200.68" font-size="6.6" text-anchor="middle" fill="#262626" stroke="#262626" stroke-width="0.0" >4</text>
<text x="267.50" y="200.68" font-size="6.6" text-anchor="middle" fill="#262626" stroke="#262626" stroke-width="0.0" >24</text>
<text x="284.60" y="200.68" font-size="6.6" text-anchor="middle" fill="#262626" stroke="#262626" stroke-width="0.0" >24</text>
<text x="301.70" y="200.68" font-size="6.6" text-anchor="middle" fill="#262626" stroke="#262626" stroke-width="0.0" >48</text>
<text x="318.80" y="200.68" font-size="6.6" text-anchor="middle" fill="#262626" stroke="#262626" stroke-width="0.0" >72</text>
<rect x="224.60" y="204.90" width="104.60" height="49.50" fill="#fff" stroke="#333" stroke-width="1.1" />
<rect x="224.60" y="258.50" width="104.60" height="49.80" fill="#fff" stroke="#333" stroke-width="1.1" />
<rect x="224.60" y="310.40" width="104.60" height="24.60" fill="#fff" stroke="#333" stroke-width="1.1" />
<rect x="224.60" y="338.00" width="104.60" height="12.70" fill="#fff" stroke="#333" stroke-width="1.1" />
<text x="221.00" y="232.98" font-size="6.6" text-anchor="end" fill="#262626" stroke="#262626" stroke-width="0.0" textLength="11.00" lengthAdjust="spacingAndGlyphs" >BIM</text>
<text x="221.00" y="285.18" font-size="6.6" text-anchor="end" fill="#262626" stroke="#262626" stroke-width="0.0" textLength="30.20" lengthAdjust="spacingAndGlyphs" >Caspase 3</text>
<text x="221.00" y="324.78" font-size="6.6" text-anchor="end" fill="#262626" stroke="#262626" stroke-width="0.0" textLength="16.50" lengthAdjust="spacingAndGlyphs" >PARP</text>
<text x="221.00" y="346.88" font-size="6.6" text-anchor="end" fill="#262626" stroke="#262626" stroke-width="0.0" textLength="23.20" lengthAdjust="spacingAndGlyphs" >GAPDH</text>
<rect x="227.60" y="211.55" width="13.40" height="2.50" rx="2.42" ry="1.25" fill="#0d0d0d" fill-opacity="0.35" filter="url(#bl)"/>
<rect x="244.70" y="211.30" width="13.40" height="3.00" rx="2.42" ry="1.50" fill="#0d0d0d" fill-opacity="0.55" filter="url(#bl)"/>
<rect x="261.80" y="210.30" width="13.40" height="5.00" rx="2.75" ry="2.50" fill="#0d0d0d" fill-opacity="1.00" filter="url(#bl)"/>
<rect x="278.90" y="210.30" width="13.40" height="5.00" rx="2.75" ry="2.50" fill="#0d0d0d" fill-opacity="1.00" filter="url(#bl)"/>
<rect x="296.00" y="208.80" width="13.40" height="8.00" rx="4.40" ry="4.00" fill="#0d0d0d" fill-opacity="1.00" filter="url(#bl)"/>
<rect x="313.10" y="208.80" width="13.40" height="8.00" rx="4.40" ry="4.00" fill="#0d0d0d" fill-opacity="1.00" filter="url(#bl)"/>
<rect x="227.60" y="233.90" width="13.40" height="2.00" rx="2.42" ry="1.00" fill="#0d0d0d" fill-opacity="0.15" filter="url(#bl)"/>
<rect x="244.70" y="233.65" width="13.40" height="2.50" rx="2.42" ry="1.25" fill="#0d0d0d" fill-opacity="0.30" filter="url(#bl)"/>
<rect x="261.80" y="232.90" width="13.40" height="4.00" rx="2.42" ry="2.00" fill="#0d0d0d" fill-opacity="0.80" filter="url(#bl)"/>
<rect x="278.90" y="232.90" width="13.40" height="4.00" rx="2.42" ry="2.00" fill="#0d0d0d" fill-opacity="0.90" filter="url(#bl)"/>
<rect x="296.00" y="231.90" width="13.40" height="6.00" rx="3.30" ry="3.00" fill="#0d0d0d" fill-opacity="1.00" filter="url(#bl)"/>
<rect x="313.10" y="232.40" width="13.40" height="5.00" rx="2.75" ry="2.50" fill="#0d0d0d" fill-opacity="1.00" filter="url(#bl)"/>
<rect x="244.70" y="245.90" width="13.40" height="2.00" rx="2.42" ry="1.00" fill="#0d0d0d" fill-opacity="0.05" filter="url(#bl)"/>
<rect x="261.80" y="245.40" width="13.40" height="3.00" rx="2.42" ry="1.50" fill="#0d0d0d" fill-opacity="0.45" filter="url(#bl)"/>
<rect x="278.90" y="245.40" width="13.40" height="3.00" rx="2.42" ry="1.50" fill="#0d0d0d" fill-opacity="0.50" filter="url(#bl)"/>
<rect x="296.00" y="244.40" width="13.40" height="5.00" rx="2.75" ry="2.50" fill="#0d0d0d" fill-opacity="1.00" filter="url(#bl)"/>
<rect x="313.10" y="244.90" width="13.40" height="4.00" rx="2.42" ry="2.00" fill="#0d0d0d" fill-opacity="0.45" filter="url(#bl)"/>
<rect x="227.20" y="263.80" width="14.20" height="4.00" rx="2.42" ry="2.00" fill="#0d0d0d" fill-opacity="0.75" filter="url(#bl)"/>
<rect x="244.30" y="263.80" width="14.20" height="4.00" rx="2.42" ry="2.00" fill="#0d0d0d" fill-opacity="0.78" filter="url(#bl)"/>
<rect x="261.40" y="263.80" width="14.20" height="4.00" rx="2.42" ry="2.00" fill="#0d0d0d" fill-opacity="0.80" filter="url(#bl)"/>
<rect x="278.50" y="263.80" width="14.20" height="4.00" rx="2.42" ry="2.00" fill="#0d0d0d" fill-opacity="0.80" filter="url(#bl)"/>
<rect x="295.60" y="263.80" width="14.20" height="4.00" rx="2.42" ry="2.00" fill="#0d0d0d" fill-opacity="0.80" filter="url(#bl)"/>
<rect x="312.70" y="263.80" width="14.20" height="4.00" rx="2.42" ry="2.00" fill="#0d0d0d" fill-opacity="0.75" filter="url(#bl)"/>
<rect x="227.60" y="300.20" width="13.40" height="2.00" rx="2.42" ry="1.00" fill="#0d0d0d" fill-opacity="0.15" filter="url(#bl)"/>
<rect x="244.70" y="300.20" width="13.40" height="2.00" rx="2.42" ry="1.00" fill="#0d0d0d" fill-opacity="0.25" filter="url(#bl)"/>
<rect x="261.80" y="299.45" width="13.40" height="3.50" rx="2.42" ry="1.75" fill="#0d0d0d" fill-opacity="0.40" filter="url(#bl)"/>
<rect x="278.90" y="299.20" width="13.40" height="4.00" rx="2.42" ry="2.00" fill="#0d0d0d" fill-opacity="0.40" filter="url(#bl)"/>
<rect x="296.00" y="299.45" width="13.40" height="3.50" rx="2.42" ry="1.75" fill="#0d0d0d" fill-opacity="0.35" filter="url(#bl)"/>
<rect x="313.10" y="299.95" width="13.40" height="2.50" rx="2.42" ry="1.25" fill="#0d0d0d" fill-opacity="0.25" filter="url(#bl)"/>
<rect x="227.20" y="315.30" width="14.20" height="3.00" rx="2.42" ry="1.50" fill="#0d0d0d" fill-opacity="0.95" filter="url(#bl)"/>
<rect x="244.30" y="314.80" width="14.20" height="4.00" rx="2.42" ry="2.00" fill="#0d0d0d" fill-opacity="1.00" filter="url(#bl)"/>
<rect x="261.40" y="314.05" width="14.20" height="5.50" rx="3.03" ry="2.75" fill="#0d0d0d" fill-opacity="1.00" filter="url(#bl)"/>
<rect x="278.50" y="314.05" width="14.20" height="5.50" rx="3.03" ry="2.75" fill="#0d0d0d" fill-opacity="1.00" filter="url(#bl)"/>
<rect x="295.60" y="313.55" width="14.20" height="6.50" rx="3.58" ry="3.25" fill="#0d0d0d" fill-opacity="1.00" filter="url(#bl)"/>
<rect x="312.70" y="313.80" width="14.20" height="6.00" rx="3.30" ry="3.00" fill="#0d0d0d" fill-opacity="1.00" filter="url(#bl)"/>
<rect x="261.80" y="329.70" width="13.40" height="2.00" rx="2.42" ry="1.00" fill="#0d0d0d" fill-opacity="0.30" filter="url(#bl)"/>
<rect x="278.90" y="329.70" width="13.40" height="2.00" rx="2.42" ry="1.00" fill="#0d0d0d" fill-opacity="0.35" filter="url(#bl)"/>
<rect x="296.00" y="328.70" width="13.40" height="4.00" rx="2.42" ry="2.00" fill="#0d0d0d" fill-opacity="1.00" filter="url(#bl)"/>
<rect x="313.10" y="328.95" width="13.40" height="3.50" rx="2.42" ry="1.75" fill="#0d0d0d" fill-opacity="0.95" filter="url(#bl)"/>
<rect x="227.20" y="341.65" width="14.20" height="5.50" rx="3.03" ry="2.75" fill="#0d0d0d" fill-opacity="1.00" filter="url(#bl)"/>
<rect x="244.30" y="341.65" width="14.20" height="5.50" rx="3.03" ry="2.75" fill="#0d0d0d" fill-opacity="1.00" filter="url(#bl)"/>
<rect x="261.40" y="341.65" width="14.20" height="5.50" rx="3.03" ry="2.75" fill="#0d0d0d" fill-opacity="1.00" filter="url(#bl)"/>
<rect x="278.50" y="341.65" width="14.20" height="5.50" rx="3.03" ry="2.75" fill="#0d0d0d" fill-opacity="1.00" filter="url(#bl)"/>
<rect x="295.60" y="341.65" width="14.20" height="5.50" rx="3.03" ry="2.75" fill="#0d0d0d" fill-opacity="1.00" filter="url(#bl)"/>
<rect x="312.70" y="341.65" width="14.20" height="5.50" rx="3.03" ry="2.75" fill="#0d0d0d" fill-opacity="1.00" filter="url(#bl)"/>
<line x1="332.10" y1="301.20" x2="340.60" y2="301.20" stroke="#222" stroke-width="0.8" />
<path d="M330.80,301.20 l3.0,-1.7 l0,3.4 z" fill="#222"/>
<line x1="332.10" y1="330.70" x2="340.60" y2="330.70" stroke="#222" stroke-width="0.8" />
<path d="M330.80,330.70 l3.0,-1.7 l0,3.4 z" fill="#222"/>
<text x="276.80" y="361.40" font-size="8.6" text-anchor="middle" fill="#262626" stroke="#262626" stroke-width="0.0" textLength="29.60" lengthAdjust="spacingAndGlyphs" >SU-DHL-6</text>
<text x="354.50" y="175.28" font-size="11.0" font-weight="bold" fill="#111" stroke="#111" stroke-width="0.25" textLength="6.4" lengthAdjust="spacingAndGlyphs">F</text>
<text x="406.30" y="187.48" font-size="6.6" text-anchor="middle" fill="#262626" stroke="#262626" stroke-width="0.0" textLength="7.70" lengthAdjust="spacingAndGlyphs" >UT</text>
<text x="431.95" y="187.48" font-size="6.6" text-anchor="middle" fill="#262626" stroke="#262626" stroke-width="0.0" textLength="15.00" lengthAdjust="spacingAndGlyphs" >GRM</text>
<text x="474.70" y="187.48" font-size="6.6" text-anchor="middle" fill="#262626" stroke="#262626" stroke-width="0.0" textLength="29.50" lengthAdjust="spacingAndGlyphs" >ABBV-319</text>
<line x1="419.80" y1="191.90" x2="444.70" y2="191.90" stroke="#4a4a4a" stroke-width="1.2" />
<line x1="454.30" y1="191.90" x2="494.60" y2="191.90" stroke="#4a4a4a" stroke-width="1.2" />
<text x="394.00" y="200.78" font-size="6.6" text-anchor="end" fill="#262626" stroke="#262626" stroke-width="0.0" textLength="23.10" lengthAdjust="spacingAndGlyphs" >Time (h)</text>
<text x="423.40" y="200.68" font-size="6.6" text-anchor="middle" fill="#262626" stroke="#262626" stroke-width="0.0" >4</text>
<text x="440.50" y="200.68" font-size="6.6" text-anchor="middle" fill="#262626" stroke="#262626" stroke-width="0.0" >24</text>
<text x="457.60" y="200.68" font-size="6.6" text-anchor="middle" fill="#262626" stroke="#262626" stroke-width="0.0" >24</text>
<text x="474.70" y="200.68" font-size="6.6" text-anchor="middle" fill="#262626" stroke="#262626" stroke-width="0.0" >48</text>
<text x="491.80" y="200.68" font-size="6.6" text-anchor="middle" fill="#262626" stroke="#262626" stroke-width="0.0" >72</text>
<rect x="397.60" y="204.90" width="104.60" height="49.50" fill="#fff" stroke="#333" stroke-width="1.1" />
<rect x="397.60" y="258.50" width="104.60" height="49.80" fill="#fff" stroke="#333" stroke-width="1.1" />
<rect x="397.60" y="310.40" width="104.60" height="24.60" fill="#fff" stroke="#333" stroke-width="1.1" />
<rect x="397.60" y="338.00" width="104.60" height="12.70" fill="#fff" stroke="#333" stroke-width="1.1" />
<text x="394.00" y="232.98" font-size="6.6" text-anchor="end" fill="#262626" stroke="#262626" stroke-width="0.0" textLength="11.00" lengthAdjust="spacingAndGlyphs" >BIM</text>
<text x="394.00" y="285.18" font-size="6.6" text-anchor="end" fill="#262626" stroke="#262626" stroke-width="0.0" textLength="30.20" lengthAdjust="spacingAndGlyphs" >Caspase 3</text>
<text x="394.00" y="324.78" font-size="6.6" text-anchor="end" fill="#262626" stroke="#262626" stroke-width="0.0" textLength="16.50" lengthAdjust="spacingAndGlyphs" >PARP</text>
<text x="394.00" y="346.88" font-size="6.6" text-anchor="end" fill="#262626" stroke="#262626" stroke-width="0.0" textLength="23.20" lengthAdjust="spacingAndGlyphs" >GAPDH</text>
<rect x="400.60" y="212.40" width="13.40" height="4.00" rx="2.42" ry="2.00" fill="#0d0d0d" fill-opacity="0.55" filter="url(#bl)"/>
<rect x="417.70" y="212.15" width="13.40" height="4.50" rx="2.48" ry="2.25" fill="#0d0d0d" fill-opacity="0.70" filter="url(#bl)"/>
<rect x="434.80" y="211.40" width="13.40" height="6.00" rx="3.30" ry="3.00" fill="#0d0d0d" fill-opacity="1.00" filter="url(#bl)"/>
<rect x="451.90" y="211.90" width="13.40" height="5.00" rx="2.75" ry="2.50" fill="#0d0d0d" fill-opacity="1.00" filter="url(#bl)"/>
<rect x="469.00" y="210.90" width="13.40" height="7.00" rx="3.85" ry="3.50" fill="#0d0d0d" fill-opacity="1.00" filter="url(#bl)"/>
<rect x="486.10" y="210.90" width="13.40" height="7.00" rx="3.85" ry="3.50" fill="#0d0d0d" fill-opacity="1.00" filter="url(#bl)"/>
<rect x="434.80" y="235.00" width="13.40" height="3.00" rx="2.42" ry="1.50" fill="#0d0d0d" fill-opacity="0.45" filter="url(#bl)"/>
<rect x="451.90" y="235.50" width="13.40" height="2.00" rx="2.42" ry="1.00" fill="#0d0d0d" fill-opacity="0.30" filter="url(#bl)"/>
<rect x="469.00" y="234.75" width="13.40" height="3.50" rx="2.42" ry="1.75" fill="#0d0d0d" fill-opacity="0.60" filter="url(#bl)"/>
<rect x="486.10" y="234.75" width="13.40" height="3.50" rx="2.42" ry="1.75" fill="#0d0d0d" fill-opacity="0.60" filter="url(#bl)"/>
<rect x="417.70" y="246.60" width="13.40" height="2.00" rx="2.42" ry="1.00" fill="#0d0d0d" fill-opacity="0.15" filter="url(#bl)"/>
<rect x="434.80" y="245.85" width="13.40" height="3.50" rx="2.42" ry="1.75" fill="#0d0d0d" fill-opacity="0.60" filter="url(#bl)"/>
<rect x="451.90" y="246.10" width="13.40" height="3.00" rx="2.42" ry="1.50" fill="#0d0d0d" fill-opacity="0.50" filter="url(#bl)"/>
<rect x="469.00" y="245.60" width="13.40" height="4.00" rx="2.42" ry="2.00" fill="#0d0d0d" fill-opacity="0.60" filter="url(#bl)"/>
<rect x="486.10" y="245.60" width="13.40" height="4.00" rx="2.42" ry="2.00" fill="#0d0d0d" fill-opacity="0.60" filter="url(#bl)"/>
<rect x="400.20" y="263.50" width="14.20" height="4.60" rx="2.53" ry="2.30" fill="#0d0d0d" fill-opacity="0.85" filter="url(#bl)"/>
<rect x="417.30" y="263.50" width="14.20" height="4.60" rx="2.53" ry="2.30" fill="#0d0d0d" fill-opacity="0.85" filter="url(#bl)"/>
<rect x="434.40" y="263.50" width="14.20" height="4.60" rx="2.53" ry="2.30" fill="#0d0d0d" fill-opacity="0.80" filter="url(#bl)"/>
<rect x="451.50" y="263.30" width="14.20" height="5.00" rx="2.75" ry="2.50" fill="#0d0d0d" fill-opacity="0.85" filter="url(#bl)"/>
<rect x="468.60" y="263.20" width="14.20" height="5.20" rx="2.86" ry="2.60" fill="#0d0d0d" fill-opacity="0.80" filter="url(#bl)"/>
<rect x="485.70" y="263.40" width="14.20" height="4.80" rx="2.64" ry="2.40" fill="#0d0d0d" fill-opacity="0.80" filter="url(#bl)"/>
<rect x="417.70" y="299.20" width="13.40" height="3.00" rx="2.42" ry="1.50" fill="#0d0d0d" fill-opacity="0.05" filter="url(#bl)"/>
<rect x="434.80" y="298.70" width="13.40" height="4.00" rx="2.42" ry="2.00" fill="#0d0d0d" fill-opacity="0.20" filter="url(#bl)"/>
<rect x="451.90" y="298.45" width="13.40" height="4.50" rx="2.48" ry="2.25" fill="#0d0d0d" fill-opacity="0.25" filter="url(#bl)"/>
<rect x="469.00" y="298.20" width="13.40" height="5.00" rx="2.75" ry="2.50" fill="#0d0d0d" fill-opacity="0.32" filter="url(#bl)"/>
<rect x="486.10" y="298.45" width="13.40" height="4.50" rx="2.48" ry="2.25" fill="#0d0d0d" fill-opacity="0.27" filter="url(#bl)"/>
<rect x="400.20" y="316.50" width="14.20" height="3.00" rx="2.42" ry="1.50" fill="#0d0d0d" fill-opacity="0.80" filter="url(#bl)"/>
<rect x="417.30" y="315.75" width="14.20" height="4.50" rx="2.48" ry="2.25" fill="#0d0d0d" fill-opacity="1.00" filter="url(#bl)"/>
<rect x="434.40" y="315.00" width="14.20" height="6.00" rx="3.30" ry="3.00" fill="#0d0d0d" fill-opacity="1.00" filter="url(#bl)"/>
<rect x="451.50" y="315.00" width="14.20" height="6.00" rx="3.30" ry="3.00" fill="#0d0d0d" fill-opacity="1.00" filter="url(#bl)"/>
<rect x="468.60" y="314.00" width="14.20" height="8.00" rx="4.40" ry="4.00" fill="#0d0d0d" fill-opacity="1.00" filter="url(#bl)"/>
<rect x="485.70" y="314.00" width="14.20" height="8.00" rx="4.40" ry="4.00" fill="#0d0d0d" fill-opacity="1.00" filter="url(#bl)"/>
<rect x="434.80" y="330.15" width="13.40" height="2.50" rx="2.42" ry="1.25" fill="#0d0d0d" fill-opacity="0.65" filter="url(#bl)"/>
<rect x="451.90" y="330.40" width="13.40" height="2.00" rx="2.42" ry="1.00" fill="#0d0d0d" fill-opacity="0.20" filter="url(#bl)"/>
<rect x="469.00" y="329.40" width="13.40" height="4.00" rx="2.42" ry="2.00" fill="#0d0d0d" fill-opacity="1.00" filter="url(#bl)"/>
<rect x="486.10" y="329.65" width="13.40" height="3.50" rx="2.42" ry="1.75" fill="#0d0d0d" fill-opacity="0.95" filter="url(#bl)"/>
<rect x="400.20" y="341.90" width="14.20" height="5.00" rx="2.75" ry="2.50" fill="#0d0d0d" fill-opacity="1.00" filter="url(#bl)"/>
<rect x="417.30" y="341.90" width="14.20" height="5.00" rx="2.75" ry="2.50" fill="#0d0d0d" fill-opacity="1.00" filter="url(#bl)"/>
<rect x="434.40" y="341.90" width="14.20" height="5.00" rx="2.75" ry="2.50" fill="#0d0d0d" fill-opacity="1.00" filter="url(#bl)"/>
<rect x="451.50" y="341.90" width="14.20" height="5.00" rx="2.75" ry="2.50" fill="#0d0d0d" fill-opacity="1.00" filter="url(#bl)"/>
<rect x="468.60" y="341.90" width="14.20" height="5.00" rx="2.75" ry="2.50" fill="#0d0d0d" fill-opacity="1.00" filter="url(#bl)"/>
<rect x="485.70" y="341.65" width="14.20" height="5.50" rx="3.03" ry="2.75" fill="#0d0d0d" fill-opacity="1.00" filter="url(#bl)"/>
<rect x="471.20" y="281.75" width="9.00" height="2.50" rx="2.42" ry="1.25" fill="#0d0d0d" fill-opacity="0.09" filter="url(#bl)"/>
<rect x="471.20" y="290.75" width="9.00" height="2.50" rx="2.42" ry="1.25" fill="#0d0d0d" fill-opacity="0.09" filter="url(#bl)"/>
<rect x="488.30" y="281.75" width="9.00" height="2.50" rx="2.42" ry="1.25" fill="#0d0d0d" fill-opacity="0.06" filter="url(#bl)"/>
<rect x="488.30" y="290.75" width="9.00" height="2.50" rx="2.42" ry="1.25" fill="#0d0d0d" fill-opacity="0.07" filter="url(#bl)"/>
<rect x="469.70" y="218.75" width="12.00" height="2.50" rx="2.42" ry="1.25" fill="#0d0d0d" fill-opacity="0.12" filter="url(#bl)"/>
<rect x="486.80" y="218.75" width="12.00" height="2.50" rx="2.42" ry="1.25" fill="#0d0d0d" fill-opacity="0.10" filter="url(#bl)"/>
<line x1="505.10" y1="300.70" x2="513.60" y2="300.70" stroke="#222" stroke-width="0.8" />
<path d="M503.80,300.70 l3.0,-1.7 l0,3.4 z" fill="#222"/>
<line x1="505.10" y1="331.40" x2="513.60" y2="331.40" stroke="#222" stroke-width="0.8" />
<path d="M503.80,331.40 l3.0,-1.7 l0,3.4 z" fill="#222"/>
<text x="449.80" y="361.40" font-size="8.6" text-anchor="middle" fill="#262626" stroke="#262626" stroke-width="0.0" textLength="28.00" lengthAdjust="spacingAndGlyphs" >OCI-LY19</text>
<text x="6.90" y="388.58" font-size="11.0" font-weight="bold" fill="#111" stroke="#111" stroke-width="0.25" textLength="8.6" lengthAdjust="spacingAndGlyphs">G</text>
<rect x="55.80" y="398.40" width="6.90" height="12.81" fill="#32a83c" />
<rect x="55.80" y="411.21" width="6.90" height="18.63" fill="#c6c6c6" />
<rect x="55.80" y="429.84" width="6.90" height="42.44" fill="#d0102a" />
<rect x="55.80" y="472.28" width="6.90" height="4.72" fill="#1c4f8a" />
<rect x="73.22" y="398.40" width="6.90" height="9.59" fill="#32a83c" />
<rect x="73.22" y="407.99" width="6.90" height="18.71" fill="#c6c6c6" />
<rect x="73.22" y="426.70" width="6.90" height="33.41" fill="#d0102a" />
<rect x="73.22" y="460.10" width="6.90" height="16.90" fill="#1c4f8a" />
<rect x="90.64" y="398.40" width="6.90" height="4.24" fill="#32a83c" />
<rect x="90.64" y="402.64" width="6.90" height="10.30" fill="#c6c6c6" />
<rect x="90.64" y="412.94" width="6.90" height="41.58" fill="#d0102a" />
<rect x="90.64" y="454.52" width="6.90" height="22.48" fill="#1c4f8a" />
<rect x="108.06" y="398.40" width="6.90" height="5.27" fill="#32a83c" />
<rect x="108.06" y="403.67" width="6.90" height="8.88" fill="#c6c6c6" />
<rect x="108.06" y="412.55" width="6.90" height="33.48" fill="#d0102a" />
<rect x="108.06" y="446.03" width="6.90" height="30.97" fill="#1c4f8a" />
<rect x="125.48" y="398.40" width="6.90" height="1.57" fill="#32a83c" />
<rect x="125.48" y="399.97" width="6.90" height="8.33" fill="#c6c6c6" />
<rect x="125.48" y="408.30" width="6.90" height="25.23" fill="#d0102a" />
<rect x="125.48" y="433.53" width="6.90" height="43.47" fill="#1c4f8a" />
<rect x="142.90" y="398.40" width="6.90" height="2.36" fill="#32a83c" />
<rect x="142.90" y="400.76" width="6.90" height="9.04" fill="#c6c6c6" />
<rect x="142.90" y="409.80" width="6.90" height="29.32" fill="#d0102a" />
<rect x="142.90" y="439.11" width="6.90" height="37.89" fill="#1c4f8a" />
<line x1="50.60" y1="395.40" x2="50.60" y2="536.00" stroke="#222" stroke-width="1.1" />
<line x1="154.70" y1="477.00" x2="154.70" y2="536.00" stroke="#222" stroke-width="1.1" />
<line x1="47.50" y1="477.00" x2="155.20" y2="477.00" stroke="#222" stroke-width="1.2" />
<line x1="47.50" y1="477.00" x2="50.60" y2="477.00" stroke="#222" stroke-width="1" />
<text x="44.60" y="478.40" font-size="6.4" text-anchor="end" fill="#262626" stroke="#262626" stroke-width="0.0" textLength="9.60" lengthAdjust="spacingAndGlyphs" >0%</text>
<line x1="47.50" y1="461.28" x2="50.60" y2="461.28" stroke="#222" stroke-width="1" />
<text x="44.60" y="462.68" font-size="6.4" text-anchor="end" fill="#262626" stroke="#262626" stroke-width="0.0" textLength="12.50" lengthAdjust="spacingAndGlyphs" >20%</text>
<line x1="47.50" y1="445.56" x2="50.60" y2="445.56" stroke="#222" stroke-width="1" />
<text x="44.60" y="446.96" font-size="6.4" text-anchor="end" fill="#262626" stroke="#262626" stroke-width="0.0" textLength="12.50" lengthAdjust="spacingAndGlyphs" >40%</text>
<line x1="47.50" y1="429.84" x2="50.60" y2="429.84" stroke="#222" stroke-width="1" />
<text x="44.60" y="431.24" font-size="6.4" text-anchor="end" fill="#262626" stroke="#262626" stroke-width="0.0" textLength="12.50" lengthAdjust="spacingAndGlyphs" >60%</text>
<line x1="47.50" y1="414.12" x2="50.60" y2="414.12" stroke="#222" stroke-width="1" />
<text x="44.60" y="415.52" font-size="6.4" text-anchor="end" fill="#262626" stroke="#262626" stroke-width="0.0" textLength="12.50" lengthAdjust="spacingAndGlyphs" >80%</text>
<line x1="47.50" y1="398.40" x2="50.60" y2="398.40" stroke="#222" stroke-width="1" />
<text x="44.60" y="399.80" font-size="6.4" text-anchor="end" fill="#262626" stroke="#262626" stroke-width="0.0" textLength="16.00" lengthAdjust="spacingAndGlyphs" >100%</text>
<text x="59.65" y="482.78" font-size="6.6" text-anchor="end" fill="#262626" stroke="#262626" stroke-width="0.0" textLength="29.30" lengthAdjust="spacingAndGlyphs" transform="rotate(-90 59.65 480.40)" >Untreated</text>
<text x="77.07" y="482.78" font-size="6.6" text-anchor="end" fill="#262626" stroke="#262626" stroke-width="0.0" textLength="23.60" lengthAdjust="spacingAndGlyphs" transform="rotate(-90 77.07 480.40)" >4h GRM</text>
<text x="94.49" y="482.78" font-size="6.6" text-anchor="end" fill="#262626" stroke="#262626" stroke-width="0.0" textLength="26.60" lengthAdjust="spacingAndGlyphs" transform="rotate(-90 94.49 480.40)" >24h GRM</text>
<text x="111.91" y="482.78" font-size="6.6" text-anchor="end" fill="#262626" stroke="#262626" stroke-width="0.0" textLength="42.00" lengthAdjust="spacingAndGlyphs" transform="rotate(-90 111.91 480.40)" >24h ABBV-319</text>
<text x="129.33" y="482.78" font-size="6.6" text-anchor="end" fill="#262626" stroke="#262626" stroke-width="0.0" textLength="42.00" lengthAdjust="spacingAndGlyphs" transform="rotate(-90 129.33 480.40)" >48h ABBV-319</text>
<text x="146.75" y="482.78" font-size="6.6" text-anchor="end" fill="#262626" stroke="#262626" stroke-width="0.0" textLength="42.00" lengthAdjust="spacingAndGlyphs" transform="rotate(-90 146.75 480.40)" >72h ABBV-319</text>
<text x="102.00" y="532.92" font-size="8.4" text-anchor="middle" fill="#262626" stroke="#262626" stroke-width="0.0" textLength="20.00" lengthAdjust="spacingAndGlyphs" >Farage</text>
<text x="188.80" y="388.58" font-size="11.0" font-weight="bold" fill="#111" stroke="#111" stroke-width="0.25" textLength="7.4" lengthAdjust="spacingAndGlyphs">H</text>
<rect x="228.50" y="398.40" width="6.80" height="9.27" fill="#32a83c" />
<rect x="228.50" y="407.67" width="6.80" height="14.23" fill="#c6c6c6" />
<rect x="228.50" y="421.90" width="6.80" height="52.74" fill="#d0102a" />
<rect x="228.50" y="474.64" width="6.80" height="2.36" fill="#1c4f8a" />
<rect x="245.85" y="398.40" width="6.80" height="6.52" fill="#32a83c" />
<rect x="245.85" y="404.92" width="6.80" height="12.81" fill="#c6c6c6" />
<rect x="245.85" y="417.74" width="6.80" height="41.11" fill="#d0102a" />
<rect x="245.85" y="458.84" width="6.80" height="18.16" fill="#1c4f8a" />
<rect x="263.20" y="398.40" width="6.80" height="5.34" fill="#32a83c" />
<rect x="263.20" y="403.74" width="6.80" height="7.00" fill="#c6c6c6" />
<rect x="263.20" y="410.74" width="6.80" height="46.92" fill="#d0102a" />
<rect x="263.20" y="457.66" width="6.80" height="19.34" fill="#1c4f8a" />
<rect x="280.55" y="398.40" width="6.80" height="3.46" fill="#32a83c" />
<rect x="280.55" y="401.86" width="6.80" height="8.17" fill="#c6c6c6" />
<rect x="280.55" y="410.03" width="6.80" height="39.77" fill="#d0102a" />
<rect x="280.55" y="449.80" width="6.80" height="27.20" fill="#1c4f8a" />
<rect x="297.90" y="398.40" width="6.80" height="1.89" fill="#32a83c" />
<rect x="297.90" y="400.29" width="6.80" height="6.92" fill="#c6c6c6" />
<rect x="297.90" y="407.20" width="6.80" height="22.09" fill="#d0102a" />
<rect x="297.90" y="429.29" width="6.80" height="47.71" fill="#1c4f8a" />
<rect x="315.25" y="398.40" width="6.80" height="1.41" fill="#32a83c" />
<rect x="315.25" y="399.81" width="6.80" height="5.82" fill="#c6c6c6" />
<rect x="315.25" y="405.63" width="6.80" height="16.74" fill="#d0102a" />
<rect x="315.25" y="422.37" width="6.80" height="54.63" fill="#1c4f8a" />
<line x1="222.50" y1="395.40" x2="222.50" y2="536.00" stroke="#222" stroke-width="1.1" />
<line x1="325.20" y1="477.00" x2="325.20" y2="536.00" stroke="#222" stroke-width="1.1" />
<line x1="219.40" y1="477.00" x2="325.70" y2="477.00" stroke="#222" stroke-width="1.2" />
<line x1="219.40" y1="477.00" x2="222.50" y2="477.00" stroke="#222" stroke-width="1" />
<text x="216.50" y="478.40" font-size="6.4" text-anchor="end" fill="#262626" stroke="#262626" stroke-width="0.0" textLength="9.60" lengthAdjust="spacingAndGlyphs" >0%</text>
<line x1="219.40" y1="461.28" x2="222.50" y2="461.28" stroke="#222" stroke-width="1" />
<text x="216.50" y="462.68" font-size="6.4" text-anchor="end" fill="#262626" stroke="#262626" stroke-width="0.0" textLength="12.50" lengthAdjust="spacingAndGlyphs" >20%</text>
<line x1="219.40" y1="445.56" x2="222.50" y2="445.56" stroke="#222" stroke-width="1" />
<text x="216.50" y="446.96" font-size="6.4" text-anchor="end" fill="#262626" stroke="#262626" stroke-width="0.0" textLength="12.50" lengthAdjust="spacingAndGlyphs" >40%</text>
<line x1="219.40" y1="429.84" x2="222.50" y2="429.84" stroke="#222" stroke-width="1" />
<text x="216.50" y="431.24" font-size="6.4" text-anchor="end" fill="#262626" stroke="#262626" stroke-width="0.0" textLength="12.50" lengthAdjust="spacingAndGlyphs" >60%</text>
<line x1="219.40" y1="414.12" x2="222.50" y2="414.12" stroke="#222" stroke-width="1" />
<text x="216.50" y="415.52" font-size="6.4" text-anchor="end" fill="#262626" stroke="#262626" stroke-width="0.0" textLength="12.50" lengthAdjust="spacingAndGlyphs" >80%</text>
<line x1="219.40" y1="398.40" x2="222.50" y2="398.40" stroke="#222" stroke-width="1" />
<text x="216.50" y="399.80" font-size="6.4" text-anchor="end" fill="#262626" stroke="#262626" stroke-width="0.0" textLength="16.00" lengthAdjust="spacingAndGlyphs" >100%</text>
<text x="232.30" y="482.78" font-size="6.6" text-anchor="end" fill="#262626" stroke="#262626" stroke-width="0.0" textLength="29.30" lengthAdjust="spacingAndGlyphs" transform="rotate(-90 232.30 480.40)" >Untreated</text>
<text x="249.65" y="482.78" font-size="6.6" text-anchor="end" fill="#262626" stroke="#262626" stroke-width="0.0" textLength="23.60" lengthAdjust="spacingAndGlyphs" transform="rotate(-90 249.65 480.40)" >4h GRM</text>
<text x="267.00" y="482.78" font-size="6.6" text-anchor="end" fill="#262626" stroke="#262626" stroke-width="0.0" textLength="26.60" lengthAdjust="spacingAndGlyphs" transform="rotate(-90 267.00 480.40)" >24h GRM</text>
<text x="284.35" y="482.78" font-size="6.6" text-anchor="end" fill="#262626" stroke="#262626" stroke-width="0.0" textLength="42.00" lengthAdjust="spacingAndGlyphs" transform="rotate(-90 284.35 480.40)" >24h ABBV-319</text>
<text x="301.70" y="482.78" font-size="6.6" text-anchor="end" fill="#262626" stroke="#262626" stroke-width="0.0" textLength="42.00" lengthAdjust="spacingAndGlyphs" transform="rotate(-90 301.70 480.40)" >48h ABBV-319</text>
<text x="319.05" y="482.78" font-size="6.6" text-anchor="end" fill="#262626" stroke="#262626" stroke-width="0.0" textLength="42.00" lengthAdjust="spacingAndGlyphs" transform="rotate(-90 319.05 480.40)" >72h ABBV-319</text>
<text x="274.00" y="532.92" font-size="8.4" text-anchor="middle" fill="#262626" stroke="#262626" stroke-width="0.0" textLength="27.80" lengthAdjust="spacingAndGlyphs" >SU-DHL-6</text>
<text x="367.50" y="388.58" font-size="11.0" font-weight="bold" fill="#111" stroke="#111" stroke-width="0.25" textLength="2.8" lengthAdjust="spacingAndGlyphs">I</text>
<rect x="402.40" y="398.40" width="6.90" height="9.51" fill="#32a83c" />
<rect x="402.40" y="407.91" width="6.90" height="20.28" fill="#c6c6c6" />
<rect x="402.40" y="428.19" width="6.90" height="46.77" fill="#d0102a" />
<rect x="402.40" y="474.96" width="6.90" height="2.04" fill="#1c4f8a" />
<rect x="419.67" y="398.40" width="6.90" height="10.69" fill="#32a83c" />
<rect x="419.67" y="409.09" width="6.90" height="20.20" fill="#c6c6c6" />
<rect x="419.67" y="429.29" width="6.90" height="45.51" fill="#d0102a" />
<rect x="419.67" y="474.80" width="6.90" height="2.20" fill="#1c4f8a" />
<rect x="436.94" y="398.40" width="6.90" height="5.82" fill="#32a83c" />
<rect x="436.94" y="404.22" width="6.90" height="8.80" fill="#c6c6c6" />
<rect x="436.94" y="413.02" width="6.90" height="51.64" fill="#d0102a" />
<rect x="436.94" y="464.66" width="6.90" height="12.34" fill="#1c4f8a" />
<rect x="454.21" y="398.40" width="6.90" height="7.70" fill="#32a83c" />
<rect x="454.21" y="406.10" width="6.90" height="8.10" fill="#c6c6c6" />
<rect x="454.21" y="414.20" width="6.90" height="55.81" fill="#d0102a" />
<rect x="454.21" y="470.00" width="6.90" height="7.00" fill="#1c4f8a" />
<rect x="471.48" y="398.40" width="6.90" height="1.41" fill="#32a83c" />
<rect x="471.48" y="399.81" width="6.90" height="6.76" fill="#c6c6c6" />
<rect x="471.48" y="406.57" width="6.90" height="38.36" fill="#d0102a" />
<rect x="471.48" y="444.93" width="6.90" height="32.07" fill="#1c4f8a" />
<rect x="488.75" y="398.40" width="6.90" height="1.41" fill="#32a83c" />
<rect x="488.75" y="399.81" width="6.90" height="6.76" fill="#c6c6c6" />
<rect x="488.75" y="406.57" width="6.90" height="40.16" fill="#d0102a" />
<rect x="488.75" y="446.74" width="6.90" height="30.26" fill="#1c4f8a" />
<line x1="396.20" y1="395.40" x2="396.20" y2="536.00" stroke="#222" stroke-width="1.1" />
<line x1="500.00" y1="477.00" x2="500.00" y2="536.00" stroke="#222" stroke-width="1.1" />
<line x1="393.10" y1="477.00" x2="500.50" y2="477.00" stroke="#222" stroke-width="1.2" />
<line x1="393.10" y1="477.00" x2="396.20" y2="477.00" stroke="#222" stroke-width="1" />
<text x="390.20" y="478.40" font-size="6.4" text-anchor="end" fill="#262626" stroke="#262626" stroke-width="0.0" textLength="9.60" lengthAdjust="spacingAndGlyphs" >0%</text>
<line x1="393.10" y1="461.28" x2="396.20" y2="461.28" stroke="#222" stroke-width="1" />
<text x="390.20" y="462.68" font-size="6.4" text-anchor="end" fill="#262626" stroke="#262626" stroke-width="0.0" textLength="12.50" lengthAdjust="spacingAndGlyphs" >20%</text>
<line x1="393.10" y1="445.56" x2="396.20" y2="445.56" stroke="#222" stroke-width="1" />
<text x="390.20" y="446.96" font-size="6.4" text-anchor="end" fill="#262626" stroke="#262626" stroke-width="0.0" textLength="12.50" lengthAdjust="spacingAndGlyphs" >40%</text>
<line x1="393.10" y1="429.84" x2="396.20" y2="429.84" stroke="#222" stroke-width="1" />
<text x="390.20" y="431.24" font-size="6.4" text-anchor="end" fill="#262626" stroke="#262626" stroke-width="0.0" textLength="12.50" lengthAdjust="spacingAndGlyphs" >60%</text>
<line x1="393.10" y1="414.12" x2="396.20" y2="414.12" stroke="#222" stroke-width="1" />
<text x="390.20" y="415.52" font-size="6.4" text-anchor="end" fill="#262626" stroke="#262626" stroke-width="0.0" textLength="12.50" lengthAdjust="spacingAndGlyphs" >80%</text>
<line x1="393.10" y1="398.40" x2="396.20" y2="398.40" stroke="#222" stroke-width="1" />
<text x="390.20" y="399.80" font-size="6.4" text-anchor="end" fill="#262626" stroke="#262626" stroke-width="0.0" textLength="16.00" lengthAdjust="spacingAndGlyphs" >100%</text>
<text x="406.25" y="482.78" font-size="6.6" text-anchor="end" fill="#262626" stroke="#262626" stroke-width="0.0" textLength="29.30" lengthAdjust="spacingAndGlyphs" transform="rotate(-90 406.25 480.40)" >Untreated</text>
<text x="423.52" y="482.78" font-size="6.6" text-anchor="end" fill="#262626" stroke="#262626" stroke-width="0.0" textLength="23.60" lengthAdjust="spacingAndGlyphs" transform="rotate(-90 423.52 480.40)" >4h GRM</text>
<text x="440.79" y="482.78" font-size="6.6" text-anchor="end" fill="#262626" stroke="#262626" stroke-width="0.0" textLength="26.60" lengthAdjust="spacingAndGlyphs" transform="rotate(-90 440.79 480.40)" >24h GRM</text>
<text x="458.06" y="482.78" font-size="6.6" text-anchor="end" fill="#262626" stroke="#262626" stroke-width="0.0" textLength="42.00" lengthAdjust="spacingAndGlyphs" transform="rotate(-90 458.06 480.40)" >24h ABBV-319</text>
<text x="475.33" y="482.78" font-size="6.6" text-anchor="end" fill="#262626" stroke="#262626" stroke-width="0.0" textLength="42.00" lengthAdjust="spacingAndGlyphs" transform="rotate(-90 475.33 480.40)" >48h ABBV-319</text>
<text x="492.60" y="482.78" font-size="6.6" text-anchor="end" fill="#262626" stroke="#262626" stroke-width="0.0" textLength="42.00" lengthAdjust="spacingAndGlyphs" transform="rotate(-90 492.60 480.40)" >72h ABBV-319</text>
<text x="448.10" y="532.92" font-size="8.4" text-anchor="middle" fill="#262626" stroke="#262626" stroke-width="0.0" textLength="27.80" lengthAdjust="spacingAndGlyphs" >OCI-LY19</text>
<rect x="48.00" y="542.20" width="6.50" height="6.40" fill="#1c4f8a" />
<text x="57.00" y="547.78" font-size="6.6" text-anchor="start" fill="#262626" stroke="#262626" stroke-width="0.0" textLength="22.00" lengthAdjust="spacingAndGlyphs" >Sub-G1</text>
<rect x="82.70" y="542.20" width="6.50" height="6.40" fill="#d0102a" />
<text x="91.70" y="547.78" font-size="6.6" text-anchor="start" fill="#262626" stroke="#262626" stroke-width="0.0" textLength="19.60" lengthAdjust="spacingAndGlyphs" >G0-G1</text>
<rect x="114.40" y="542.20" width="6.50" height="6.40" fill="#c6c6c6" />
<text x="123.40" y="547.78" font-size="6.6" text-anchor="start" fill="#262626" stroke="#262626" stroke-width="0.0" textLength="3.40" lengthAdjust="spacingAndGlyphs" >S</text>
<rect x="130.50" y="542.20" width="6.50" height="6.40" fill="#32a83c" />
<text x="139.50" y="547.78" font-size="6.6" text-anchor="start" fill="#262626" stroke="#262626" stroke-width="0.0" textLength="16.00" lengthAdjust="spacingAndGlyphs" >G2-M</text>
<rect x="221.00" y="542.20" width="6.50" height="6.40" fill="#1c4f8a" />
<text x="230.00" y="547.78" font-size="6.6" text-anchor="start" fill="#262626" stroke="#262626" stroke-width="0.0" textLength="22.00" lengthAdjust="spacingAndGlyphs" >Sub-G1</text>
<rect x="255.70" y="542.20" width="6.50" height="6.40" fill="#d0102a" />
<text x="264.70" y="547.78" font-size="6.6" text-anchor="start" fill="#262626" stroke="#262626" stroke-width="0.0" textLength="19.60" lengthAdjust="spacingAndGlyphs" >G0-G1</text>
<rect x="287.40" y="542.20" width="6.50" height="6.40" fill="#c6c6c6" />
<text x="296.40" y="547.78" font-size="6.6" text-anchor="start" fill="#262626" stroke="#262626" stroke-width="0.0" textLength="3.40" lengthAdjust="spacingAndGlyphs" >S</text>
<rect x="303.50" y="542.20" width="6.50" height="6.40" fill="#32a83c" />
<text x="312.50" y="547.78" font-size="6.6" text-anchor="start" fill="#262626" stroke="#262626" stroke-width="0.0" textLength="16.00" lengthAdjust="spacingAndGlyphs" >G2-M</text>
<rect x="394.50" y="542.20" width="6.50" height="6.40" fill="#1c4f8a" />
<text x="403.50" y="547.78" font-size="6.6" text-anchor="start" fill="#262626" stroke="#262626" stroke-width="0.0" textLength="22.00" lengthAdjust="spacingAndGlyphs" >Sub-G1</text>
<rect x="429.20" y="542.20" width="6.50" height="6.40" fill="#d0102a" />
<text x="438.20" y="547.78" font-size="6.6" text-anchor="start" fill="#262626" stroke="#262626" stroke-width="0.0" textLength="19.60" lengthAdjust="spacingAndGlyphs" >G0-G1</text>
<rect x="460.90" y="542.20" width="6.50" height="6.40" fill="#c6c6c6" />
<text x="469.90" y="547.78" font-size="6.6" text-anchor="start" fill="#262626" stroke="#262626" stroke-width="0.0" textLength="3.40" lengthAdjust="spacingAndGlyphs" >S</text>
<rect x="477.00" y="542.20" width="6.50" height="6.40" fill="#32a83c" />
<text x="486.00" y="547.78" font-size="6.6" text-anchor="start" fill="#262626" stroke="#262626" stroke-width="0.0" textLength="16.00" lengthAdjust="spacingAndGlyphs" >G2-M</text>
</g>
<line x1="0.50" y1="0.00" x2="0.50" y2="555.00" stroke="#4a4a4a" stroke-width="1" />
<line x1="0.00" y1="0.50" x2="520.00" y2="0.50" stroke="#4a4a4a" stroke-width="1" />
<line x1="519.50" y1="0.00" x2="519.50" y2="555.00" stroke="#505050" stroke-width="1" />
<rect x="0.00" y="553.70" width="520.00" height="1.30" fill="#454545" />
</svg></body></html>
